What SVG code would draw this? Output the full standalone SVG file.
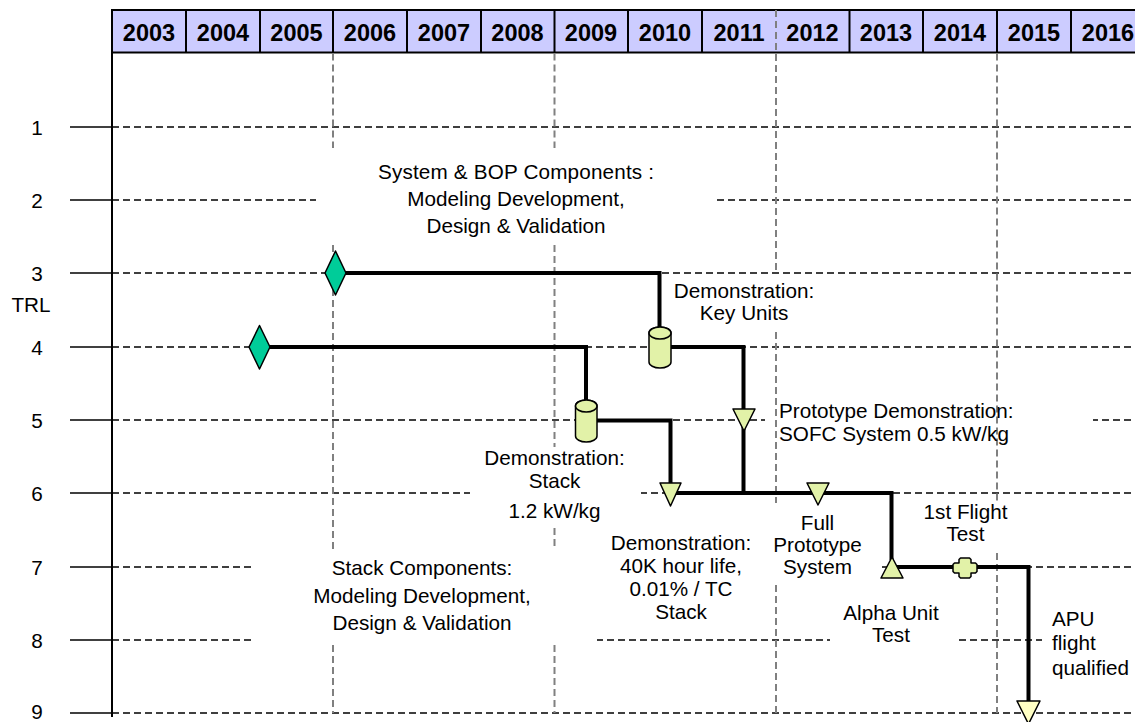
<svg xmlns="http://www.w3.org/2000/svg" width="1135" height="722" viewBox="0 0 1135 722">
<style>
.row{stroke:#000;stroke-width:1.6;stroke-dasharray:7 4;fill:none}
.tick{stroke:#000;stroke-width:1.6}
.vg{stroke:#808080;stroke-width:2;stroke-dasharray:7 4;fill:none}
.conn{stroke:#000;stroke-width:4;fill:none;stroke-linejoin:miter;stroke-linecap:butt}
.t{font-family:"Liberation Sans",Arial,sans-serif;font-size:20.7px;fill:#000}
.c{text-anchor:middle}
.yr{font-family:"Liberation Sans",Arial,sans-serif;font-size:23.5px;font-weight:bold;text-anchor:middle;fill:#000}
.bg{fill:#fff}
.sym{stroke:#000;stroke-width:1.5;stroke-linejoin:round}
.dia{fill:#00CC99}
.pale{fill:#E2F2A8}
.yel{fill:#FFFFC4}
.hs{stroke:#000;stroke-width:2}
</style>
<rect width="1135" height="722" fill="#fff"/>

<g id="header">
<rect x="112" y="10" width="1030" height="42.5" fill="#CCCCFF"/>
<line class="hs" x1="111" y1="10" x2="1135" y2="10"/>
<line class="hs" x1="111" y1="52.5" x2="1135" y2="52.5"/>
<g class="hs">
<line x1="112" y1="10" x2="112" y2="52.5"/>
<line x1="186" y1="10" x2="186" y2="52.5"/>
<line x1="260" y1="10" x2="260" y2="52.5"/>
<line x1="333" y1="10" x2="333" y2="52.5"/>
<line x1="407" y1="10" x2="407" y2="52.5"/>
<line x1="481" y1="10" x2="481" y2="52.5"/>
<line x1="554.5" y1="10" x2="554.5" y2="52.5"/>
<line x1="628" y1="10" x2="628" y2="52.5"/>
<line x1="702" y1="10" x2="702" y2="52.5"/>
<line x1="849.5" y1="10" x2="849.5" y2="52.5"/>
<line x1="923" y1="10" x2="923" y2="52.5"/>
<line x1="997" y1="10" x2="997" y2="52.5"/>
<line x1="1071" y1="10" x2="1071" y2="52.5"/>
</g>
<text class="yr" x="149" y="40.5">2003</text>
<text class="yr" x="223" y="40.5">2004</text>
<text class="yr" x="296.5" y="40.5">2005</text>
<text class="yr" x="370" y="40.5">2006</text>
<text class="yr" x="444" y="40.5">2007</text>
<text class="yr" x="517.5" y="40.5">2008</text>
<text class="yr" x="591" y="40.5">2009</text>
<text class="yr" x="665" y="40.5">2010</text>
<text class="yr" x="739" y="40.5">2011</text>
<text class="yr" x="812.5" y="40.5">2012</text>
<text class="yr" x="886" y="40.5">2013</text>
<text class="yr" x="960" y="40.5">2014</text>
<text class="yr" x="1034" y="40.5">2015</text>
<text class="yr" x="1108" y="40.5">2016</text>
</g>

<g id="axis">
<line x1="112" y1="52" x2="112" y2="717" stroke="#000" stroke-width="2"/>
<g class="tick">
<line x1="70" y1="127" x2="112" y2="127"/>
<line x1="70" y1="200" x2="112" y2="200"/>
<line x1="70" y1="273" x2="112" y2="273"/>
<line x1="70" y1="347" x2="112" y2="347"/>
<line x1="70" y1="420" x2="112" y2="420"/>
<line x1="70" y1="493" x2="112" y2="493"/>
<line x1="70" y1="567" x2="112" y2="567"/>
<line x1="70" y1="640" x2="112" y2="640"/>
<line x1="70" y1="713" x2="112" y2="713"/>
</g>
<g class="t c">
<text x="37" y="134.5">1</text>
<text x="37" y="207.5">2</text>
<text x="37" y="280.5">3</text>
<text x="37" y="354.5">4</text>
<text x="37" y="427.5">5</text>
<text x="37" y="500.5">6</text>
<text x="37" y="574.5">7</text>
<text x="37" y="647.5">8</text>
<text x="37" y="718.5">9</text>
<text x="31" y="312">TRL</text>
</g>
</g>

<g id="grid">
<line class="row" x1="112" y1="127" x2="1135" y2="127"/>
<line class="row" x1="112" y1="200" x2="1135" y2="200"/>
<line class="row" x1="112" y1="273" x2="1135" y2="273"/>
<line class="row" x1="112" y1="347" x2="1135" y2="347"/>
<line class="row" x1="112" y1="420" x2="1135" y2="420"/>
<line class="row" x1="112" y1="493" x2="1135" y2="493"/>
<line class="row" x1="112" y1="567" x2="1135" y2="567"/>
<line class="row" x1="112" y1="640" x2="1135" y2="640"/>
<line class="row" x1="112" y1="713" x2="1135" y2="713"/>
</g>

<g id="label-backgrounds">
<rect class="bg" x="316" y="148" width="400" height="97"/>
<rect class="bg" x="665" y="275" width="157" height="56"/>
<rect class="bg" x="765" y="398" width="328" height="50"/>
<rect class="bg" x="470" y="447" width="171" height="80"/>
<rect class="bg" x="252" y="550" width="345" height="95"/>
<rect class="bg" x="597" y="530" width="171" height="95"/>
<rect class="bg" x="766" y="505" width="115" height="80"/>
<rect class="bg" x="918" y="503" width="94" height="50"/>
<rect class="bg" x="830" y="598" width="128" height="50"/>
<rect class="bg" x="1042" y="605" width="93" height="80"/>
</g>

<g id="year-markers">
<line class="vg" x1="333" y1="53.5" x2="333" y2="148"/>
<line class="vg" x1="333" y1="245" x2="333" y2="550"/>
<line class="vg" x1="333" y1="645" x2="333" y2="713"/>
<line class="vg" x1="554.5" y1="53.5" x2="554.5" y2="148"/>
<line class="vg" x1="554.5" y1="245" x2="554.5" y2="447"/>
<line class="vg" x1="554.5" y1="528" x2="554.5" y2="550"/>
<line class="vg" x1="554.5" y1="645" x2="554.5" y2="713"/>
<line class="vg" x1="776" y1="10" x2="776" y2="273"/>
<line class="vg" x1="776" y1="332" x2="776" y2="503"/>
<line class="vg" x1="776" y1="585" x2="776" y2="713"/>
<line class="vg" x1="997" y1="53.5" x2="997" y2="503"/>
<line class="vg" x1="997" y1="553" x2="997" y2="713"/>
</g>

<g id="connectors">
<path class="conn" d="M346,273 H659.5 V330"/>
<path class="conn" d="M270,347 H586 V403"/>
<path class="conn" d="M671,347 H743.5 V493"/>
<path class="conn" d="M597,420.5 H670.5 V486"/>
<path class="conn" d="M670.5,493 H891.5 V560"/>
<path class="conn" d="M892,567 H1028.5 V703"/>
</g>

<g id="start-system">
<polygon class="sym dia" points="335.5,251 346,273 335.5,295 325,273"/>
</g>
<g id="start-stack">
<polygon class="sym dia" points="259.5,325.5 270,347 259.5,369 249,347"/>
</g>
<g id="demo-key-units">
<path class="sym pale" d="M649,333 A11,6 0 0 1 671,333 V362 A11,6 0 0 1 649,362 Z"/>
<ellipse class="sym pale" cx="660" cy="333" rx="11" ry="6"/>
</g>
<g id="demo-stack">
<path class="sym pale" d="M575.5,406 A10.75,6 0 0 1 597,406 V436 A10.75,6 0 0 1 575.5,436 Z"/>
<ellipse class="sym pale" cx="586.25" cy="406" rx="10.75" ry="6"/>
</g>
<g id="proto-demo">
<polygon class="sym pale" points="733,409 755,409 744,431"/>
</g>
<g id="demo-40k">
<polygon class="sym pale" points="660,483 681,483 670.5,506"/>
</g>
<g id="full-prototype">
<polygon class="sym pale" points="807,483 829,483 818,505"/>
</g>
<g id="alpha-unit">
<polygon class="sym pale" points="881,578 903,578 892,557"/>
</g>
<g id="first-flight">
<polygon class="sym pale" points="960.5,558 969.5,558 971,559.5 971,563 975.5,563 977,564.5 977,571.5 975.5,573 971,573 971,576.5 969.5,578 960.5,578 959,576.5 959,573 954.5,573 953,571.5 953,564.5 954.5,563 959,563 959,559.5"/>
</g>
<g id="apu-qualified">
<polygon class="sym yel" points="1017,701 1040,701 1028.5,724"/>
</g>

<g id="labels" class="t">
<g class="c">
<text x="516" y="179" textLength="276" lengthAdjust="spacing">System &amp; BOP Components :</text>
<text x="516" y="206">Modeling Development,</text>
<text x="516" y="233">Design &amp; Validation</text>
<text x="744" y="298">Demonstration:</text>
<text x="744" y="320">Key Units</text>
<text x="554.5" y="465">Demonstration:</text>
<text x="554.5" y="488">Stack</text>
<text x="554.5" y="518">1.2 kW/kg</text>
<text x="422" y="575">Stack Components:</text>
<text x="422" y="603">Modeling Development,</text>
<text x="422" y="630">Design &amp; Validation</text>
<text x="681" y="550">Demonstration:</text>
<text x="681" y="573">40K hour life,</text>
<text x="681" y="595.5">0.01% / TC</text>
<text x="681" y="618.5">Stack</text>
<text x="817.5" y="530">Full</text>
<text x="817.5" y="552">Prototype</text>
<text x="817.5" y="573.5">System</text>
<text x="965.5" y="518.5">1st Flight</text>
<text x="965.5" y="541">Test</text>
<text x="891" y="620">Alpha Unit</text>
<text x="891" y="642">Test</text>
</g>
<text x="779" y="418">Prototype Demonstration:</text>
<text x="779" y="441">SOFC System 0.5 kW/kg</text>
<text x="1052" y="626">APU</text>
<text x="1052" y="650">flight</text>
<text x="1052" y="675">qualified</text>
</g>
</svg>
